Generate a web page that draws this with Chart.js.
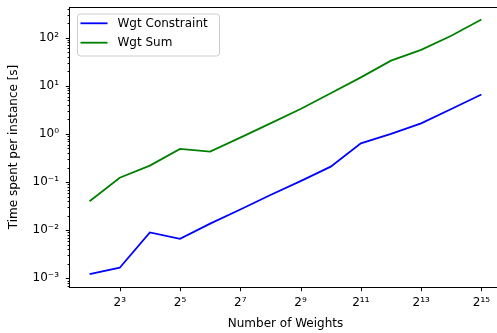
<!DOCTYPE html>
<html>
<head>
<meta charset="utf-8">
<script src="https://cdn.jsdelivr.net/npm/chart.js@4.4.1/dist/chart.umd.min.js"></script>
<style>
  html, body { margin: 0; padding: 0; background: #fff; overflow: hidden; }
  #wrap { width: 497px; height: 333px; overflow: hidden; }
</style>
</head>
<body>
<div id="wrap"><canvas id="myChart" width="512" height="333"></canvas></div>
<script>
// number of weights (x values)
var numWeights = [4, 8, 16, 32, 64, 128, 256, 512, 1024, 2048, 4096, 8192, 16384, 32768];
// time spent per instance [s]
var wgtConstraint = [0.00123, 0.00166, 0.0090, 0.0066, 0.0137, 0.027, 0.054, 0.105, 0.209, 0.64, 1.0, 1.66, 3.3, 6.6];
var wgtSum = [0.040, 0.123, 0.22, 0.49, 0.43, 0.84, 1.66, 3.3, 7.0, 15.0, 33.4, 56, 110, 238];
// tick labels
var xTickExp = [3, 5, 7, 9, 11, 13, 15];
var yTickExp = [-3, -2, -1, 0, 1, 2];

var FONT = 'DejaVu Sans';
var sup = { '-': '\u207B', '0': '\u2070', '1': '\u00B9', '2': '\u00B2', '3': '\u00B3', '4': '\u2074',
            '5': '\u2075', '6': '\u2076', '7': '\u2077', '8': '\u2078', '9': '\u2079' };
function toSup(n) {
    return String(n).split('').map(function (c) { return sup[c]; }).join('');
}

function points(ys) {
    return numWeights.map(function (x, i) { return { x: x, y: ys[i] }; });
}

// y ticks: majors at decades, minors at 2..9 x decade
var yMin = Math.pow(10, -3.18), yMax = Math.pow(10, 2.638);
function buildYTicks() {
    var t = [];
    for (var e = -4; e <= 2; e++) {
        for (var m = 1; m <= 9; m++) {
            var v = m * Math.pow(10, e);
            if (v >= yMin && v <= yMax) t.push({ value: v, major: m === 1 });
        }
    }
    return t;
}

// frame, tick marks and legend
var decorations = {
    id: 'decorations',
    afterDatasetsDraw: function (chart) {
        var ctx = chart.ctx, a = chart.chartArea;
        var xs = chart.scales.x, ys = chart.scales.y;
        ctx.save();
        ctx.strokeStyle = '#000';
        ctx.lineWidth = 1;
        ctx.beginPath();
        ys.ticks.forEach(function (t) {
            var p = Math.round(ys.getPixelForValue(t.value)) + 0.5;
            var len = t.major ? 4.2 : 2.4;
            ctx.moveTo(a.left, p); ctx.lineTo(a.left - len, p);
        });
        xs.ticks.forEach(function (t) {
            var p = Math.round(xs.getPixelForValue(t.value)) + 0.5;
            ctx.moveTo(p, a.bottom); ctx.lineTo(p, a.bottom + 4.2);
        });
        ctx.stroke();
        ctx.strokeRect(Math.round(a.left) - 0.5, Math.round(a.top) + 0.5,
            a.right - a.left, Math.round(a.bottom) - Math.round(a.top));

        // legend
        var lx = a.left + 7.5, ly = a.top + 7, lw = 142, lh = 42, r = 3;
        ctx.beginPath();
        ctx.moveTo(lx + r, ly);
        ctx.arcTo(lx + lw, ly, lx + lw, ly + lh, r);
        ctx.arcTo(lx + lw, ly + lh, lx, ly + lh, r);
        ctx.arcTo(lx, ly + lh, lx, ly, r);
        ctx.arcTo(lx, ly, lx + lw, ly, r);
        ctx.closePath();
        ctx.fillStyle = 'rgba(255,255,255,0.8)';
        ctx.fill();
        ctx.strokeStyle = '#cccccc';
        ctx.lineWidth = 1;
        ctx.stroke();
        ctx.font = '12px "' + FONT + '"';
        ctx.textBaseline = 'middle';
        ctx.textAlign = 'left';
        chart.data.datasets.forEach(function (ds, i) {
            var yy = a.top + 16.3 + i * 19.4;
            ctx.strokeStyle = ds.borderColor;
            ctx.lineWidth = 1.8;
            ctx.beginPath();
            ctx.moveTo(a.left + 10.5, yy); ctx.lineTo(a.left + 37.5, yy);
            ctx.stroke();
            ctx.fillStyle = '#000';
            ctx.fillText(ds.label, a.left + 47.5, yy + 0.5);
        });
        ctx.restore();
    }
};

var ctx = document.getElementById('myChart').getContext('2d');
var chart = new Chart(ctx, {
    type: 'line',
    data: {
        datasets: [
            { label: 'Wgt Constraint', data: points(wgtConstraint), borderColor: '#0000ff', borderWidth: 1.8, pointRadius: 0, fill: false, tension: 0 },
            { label: 'Wgt Sum', data: points(wgtSum), borderColor: '#008000', borderWidth: 1.8, pointRadius: 0, fill: false, tension: 0 }
        ]
    },
    options: {
        responsive: false,
        animation: false,
        layout: { padding: { top: 7, right: 11, left: 0, bottom: 0 } },
        plugins: { legend: { display: false }, tooltip: { enabled: false } },
        scales: {
            x: {
                type: 'logarithmic',
                min: Math.pow(2, 1.35),
                max: Math.pow(2, 15.65),
                afterBuildTicks: function (scale) {
                    scale.ticks = xTickExp.map(function (e) { return { value: Math.pow(2, e) }; });
                },
                afterFit: function (scale) {
                    scale.height = 46;
                    scale.paddingLeft = 0; scale.paddingRight = 0;
                },
                grid: { display: true, drawOnChartArea: false, drawTicks: false },
                border: { display: false },
                ticks: {
                    autoSkip: false, maxRotation: 0, padding: 9, color: '#000',
                    font: { family: FONT, size: 12 },
                    callback: function (v) { return '2' + toSup(Math.round(Math.log2(v))); }
                },
                title: { display: true, text: 'Number of Weights', color: '#000', font: { family: FONT, size: 12 }, padding: { top: 0, bottom: 2 } }
            },
            y: {
                type: 'logarithmic',
                min: yMin,
                max: yMax,
                afterBuildTicks: function (scale) { scale.ticks = buildYTicks(); },
                afterFit: function (scale) {
                    scale.width = 70;
                    scale.paddingTop = 0; scale.paddingBottom = 0;
                },
                grid: { display: true, drawOnChartArea: false, drawTicks: false },
                border: { display: false },
                ticks: {
                    autoSkip: false, padding: 11, color: '#000',
                    font: { family: FONT, size: 12 },
                    callback: function (v, i, ticks) {
                        var e = Math.round(Math.log10(v));
                        return Math.abs(v - Math.pow(10, e)) < 1e-9 * Math.pow(10, e) ? '10' + toSup(e) : '';
                    }
                },
                title: { display: true, text: 'Time spent per instance [s]', color: '#000', font: { family: FONT, size: 12 }, padding: { top: 6.5, bottom: 0 } }
            }
        }
    },
    plugins: [decorations]
});
</script>
</body>
</html>
